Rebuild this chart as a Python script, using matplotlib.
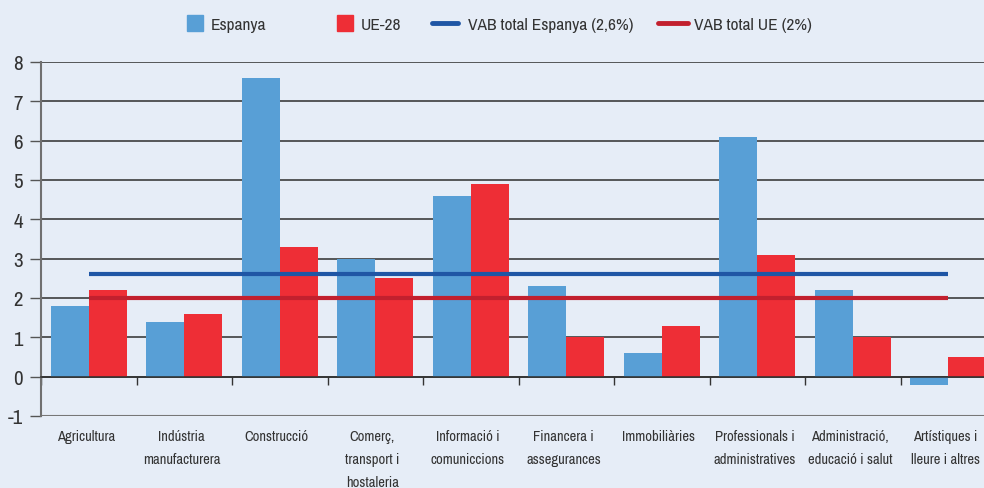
import matplotlib.pyplot as plt
from matplotlib import font_manager
from matplotlib.lines import Line2D
import numpy as np

# dades
sectors = ['Agricultura', 'Indústria\nmanufacturera', 'Construcció', 'Comerç,\ntransport i\nhostaleria',
           'Informació i\ncomuniccions', 'Financera i\nassegurances', 'Immobiliàries',
           'Professionals i\nadministratives', 'Administració,\neducació i salut', 'Artístiques i\nlleure i altres']
espanya = [1.8, 1.4, 7.6, 3.0, 4.6, 2.3, 0.6, 6.1, 2.2, -0.2]
ue28 = [2.2, 1.6, 3.3, 2.5, 4.9, 1.0, 1.3, 3.1, 1.0, 0.5]
vab_espanya = 2.6
vab_ue = 2.0

# font estreta si n'hi ha
noms = {f.name for f in font_manager.fontManager.ttflist}
estreta = [n for n in noms if 'Narrow' in n or 'Condensed' in n]
if estreta:
    font = sorted(estreta)[0]
    mida_cat, mida_leg, mida_tick = 10.5, 12.5, 15
else:
    font = 'Liberation Sans'
    mida_cat, mida_leg, mida_tick = 9.5, 11, 13
plt.rcParams['font.family'] = [font, 'DejaVu Sans']
plt.rcParams['axes.unicode_minus'] = False

bg = '#e6edf7'
blau = '#589fd6'
vermell = '#ee2e36'
linia_blau = '#1f56a5'
linia_vermell = '#c2202e'
text_col = '#333333'

fig = plt.figure(figsize=(9.84, 4.89), dpi=100, facecolor=bg)
ax = fig.add_axes([41 / 984, 1 - 417 / 489, 955 / 984, 354 / 489])
ax.set_facecolor(bg)

x = np.arange(len(sectors))
ax.bar(x - 0.2, espanya, width=0.4, color=blau, zorder=3)
ax.bar(x + 0.2, ue28, width=0.4, color=vermell, zorder=3)

# línies VAB total
ax.plot([x[0], x[-1]], [vab_espanya, vab_espanya], color=linia_blau, lw=3, zorder=4, solid_capstyle='butt')
ax.plot([x[0], x[-1]], [vab_ue, vab_ue], color=linia_vermell, lw=3, zorder=4, solid_capstyle='butt')

ax.set_xlim(-0.5, 9.5)
ax.set_ylim(-1, 8)
ax.set_yticks(range(-1, 9))
ax.tick_params(axis='y', length=8, width=1, color='#555555', labelsize=mida_tick, labelcolor=text_col, pad=5)
for y in range(0, 9):
    ax.axhline(y, color='#2e2e2e', lw=1.1, zorder=1)
ax.axhline(-1, color='#777777', lw=1.5, zorder=1)

# eix x a zero amb marques entre grups
for s in ['top', 'right']:
    ax.spines[s].set_visible(False)
ax.spines['left'].set_color('#707070')
ax.spines['left'].set_linewidth(1.5)
ax.spines['bottom'].set_position(('data', 0))
ax.spines['bottom'].set_color('#2e2e2e')
ax.spines['bottom'].set_linewidth(1.1)
ax.spines['bottom'].set_zorder(5)
ax.set_xticks(np.arange(-0.5, 10, 1))
ax.set_xticklabels([])
ax.tick_params(axis='x', direction='out', length=6, width=1, color='#333333')

for xi, nom in zip(x, sectors):
    ax.text(xi - 0.03, -1.32, nom, ha='center', va='top', fontsize=mida_cat, color=text_col,
            linespacing=1.85, clip_on=False)

# llegenda: un element per posició, com a l'original
items = [
    (Line2D([], [], marker='s', linestyle='none', markersize=11, markerfacecolor=blau, markeredgecolor=blau),
     'Espanya', 187, 0.95, 0.4),
    (Line2D([], [], marker='s', linestyle='none', markersize=11, markerfacecolor=vermell, markeredgecolor=vermell),
     'UE-28', 337, 0.95, 0.4),
    (Line2D([], [], color=linia_blau, lw=3.5, solid_capstyle='round'),
     'VAB total Espanya (2,6%)', 432, 1.5, 0.55),
    (Line2D([], [], color=linia_vermell, lw=3.5, solid_capstyle='round'),
     'VAB total UE (2%)', 658, 1.7, 0.4),
]
for h, lab, px, hl, tp in items:
    leg = fig.legend([h], [lab], loc='center left', bbox_to_anchor=(px / 984, 1 - 25 / 489),
                     frameon=False, fontsize=mida_leg, handlelength=hl, handletextpad=tp,
                     borderpad=0, borderaxespad=0)
    for t in leg.get_texts():
        t.set_color(text_col)

fig.savefig('out.png', dpi=100, facecolor=bg)
